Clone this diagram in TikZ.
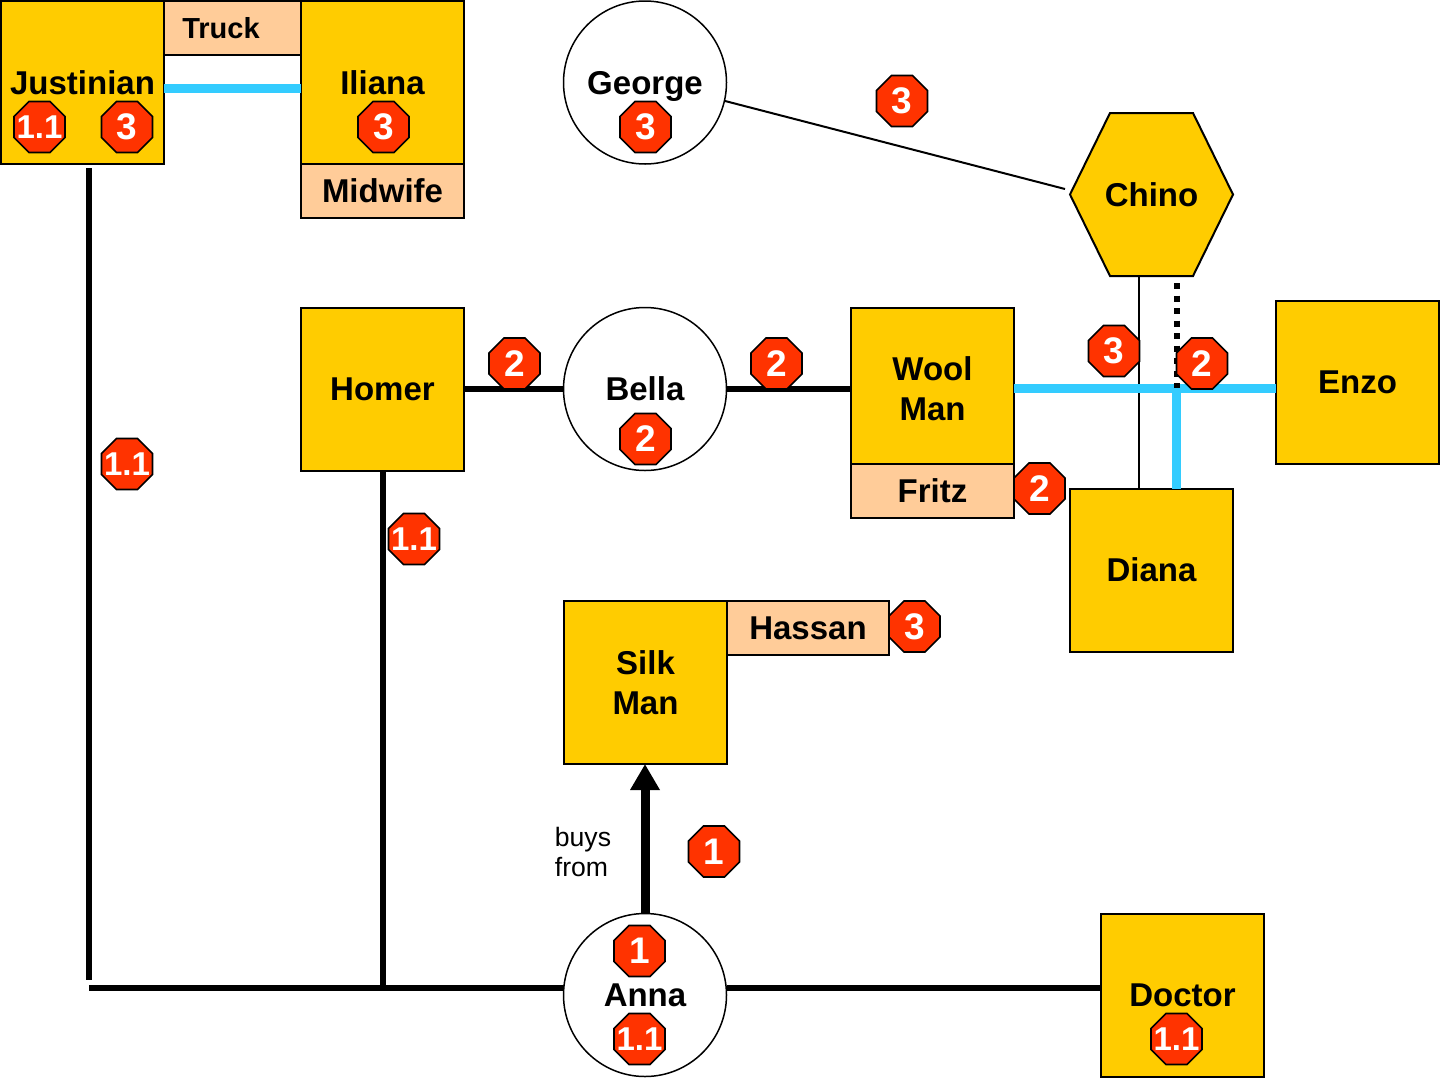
\documentclass[tikz,border=0pt]{standalone}
\usepackage{fontspec}
\setmainfont{Liberation Sans}
\usepackage{xcolor}
\usepackage{tikz}
\usetikzlibrary{shapes.geometric,arrows.meta}
\definecolor{roleyellow}{HTML}{FFCC00}
\definecolor{tagpeach}{HTML}{FFCC99}
\definecolor{stopred}{HTML}{FF3300}
\definecolor{tieblue}{HTML}{33CCFF}
\newcommand{\widelabel}{\makebox[0pt]{1.1}}
\tikzset{
    boxtext/.style={font=\fontsize{16.5}{20}\selectfont\bfseries, align=center, inner sep=0pt, outer sep=0pt},
    rolebox/.style={boxtext, draw, line width=1pt, fill=roleyellow, minimum size=81.5pt},
    tagbox/.style={boxtext, draw, line width=0.8pt, fill=tagpeach, minimum height=27pt},
    personbox/.style={boxtext, draw, line width=0.75pt, fill=white, circle, minimum size=81.5pt},
    stopsign/.style={regular polygon, regular polygon sides=8, draw, line width=0.8pt, fill=stopred, text=white, inner sep=0pt, minimum size=27.6pt, font=\fontsize{18.5}{20}\selectfont\bfseries},
    smallstop/.style={stopsign, font=\fontsize{16.5}{20}\selectfont\bfseries},
    thickline/.style={line width=3pt},
    thinline/.style={line width=1pt},
    tieline/.style={line width=4.5pt, tieblue},
}
\begin{document}
\begin{tikzpicture}[x=0.5pt, y=-0.5pt]
        \useasboundingbox (0,0) rectangle (1440,1077);
        % boxes
        \node[rolebox] (justinian) at (82.5,82.5) {Justinian};
        \node[rolebox] (iliana) at (382.5,82.5) {Iliana};
        \node[tagbox, minimum width=68.5pt, font=\fontsize{14.5}{18}\selectfont\bfseries] (truck) at (232.5,28) {Truck\hspace*{11.5pt}};
        \node[tagbox, minimum width=81.5pt] (midwife) at (382.5,191) {Midwife};
        \node[personbox, text depth=0pt] (george) at (645,82.5) {George};
        \filldraw[line width=1pt, fill=roleyellow] (1070,194.5) -- (1110,113) -- (1193,113) -- (1233,194.5) -- (1193,276) -- (1110,276) -- cycle;
        \node[boxtext, minimum size=81.5pt] (chino) at (1151.5,195) {Chino};
        \node[rolebox] (homer) at (382.5,389) {Homer};
        \node[personbox] (bella) at (645,389) {Bella};
        \node[rolebox] (wool) at (932.5,389) {Wool\\Man};
        \node[tagbox, minimum width=81.5pt] (fritz) at (932.5,491) {Fritz};
        \node[rolebox] (enzo) at (1357.5,382.5) {Enzo};
        \node[rolebox] (diana) at (1151.5,570) {Diana};
        \node[rolebox] (silk) at (645.5,682.5) {Silk\\Man};
        \node[tagbox, minimum width=81pt] (hassan) at (808,628) {Hassan};
        \node[personbox] (anna) at (645,995) {Anna};
        \node[rolebox] (doctor) at (1182.5,995) {Doctor};
        \node[font=\fontsize{13.3}{15}\selectfont, align=left, inner sep=0pt, anchor=west] (buys) at (554.5,852) {buys\\from};

        % free ends
        \coordinate (trunk) at (89,988);
        \coordinate (droptop) at (89,168);
        \coordinate (dropend) at (89,980);
        \coordinate (marriage) at (232,88);
        \coordinate (chinoend) at (1065,189);
        \coordinate (thinrun) at (1139,400);
        \coordinate (cross) at (1176.5,388);
        \coordinate (dotend) at (1176.5,283);

        % lines
        \draw[thickline] (droptop) -- (dropend);
        \draw[thickline] (trunk) -- (trunk -| anna.west);
        \draw[thickline] (anna.east |- trunk) -- (doctor.west |- trunk);
        \draw[thickline] (homer.south) -- (homer.south |- trunk);
        \draw[thickline] (homer.east) -- (bella.west);
        \draw[thickline] (bella.east) -- (wool.west |- bella);
        \draw[line width=4.5pt, -{Triangle[length=13pt, width=14pt]}] (anna.north) -- (silk.south -| anna.north);
        \draw[thinline] (george.-13) -- (chinoend);
        \draw[thinline] (thinrun |- chino.south) -- (thinrun |- diana.north);
        \draw[tieline] (justinian.east |- marriage) -- (iliana.west |- marriage);
        \draw[tieline] (wool.east |- cross) -- (enzo.west |- cross);
        \draw[tieline] (cross) -- (cross |- diana.north);
        \draw[line width=3pt, dash pattern=on 3pt off 3.25pt] (dotend) -- (cross);

        % stop signs
        \node[smallstop] (s1) at (39.5,127) {\widelabel};
        \node[stopsign] (s2) at (127,127) {3};
        \node[stopsign] (s3) at (383.5,127) {3};
        \node[stopsign] (s4) at (645.5,127) {3};
        \node[stopsign] (s5) at (902,101) {3};
        \node[stopsign] (s6) at (514.5,363.5) {2};
        \node[stopsign] (s7) at (645.5,439) {2};
        \node[stopsign] (s8) at (776.5,363.5) {2};
        \node[stopsign] (s9) at (1114,351) {3};
        \node[stopsign] (s10) at (1202,363.5) {2};
        \node[stopsign] (s11) at (1039.5,488.5) {2};
        \node[smallstop] (s12) at (127,464) {\widelabel};
        \node[smallstop] (s13) at (414,539) {\widelabel};
        \node[stopsign] (s14) at (914.5,626.5) {3};
        \node[stopsign] (s15) at (714,851.5) {1};
        \node[stopsign] (s16) at (639.5,951) {1};
        \node[smallstop] (s17) at (639.5,1039) {\widelabel};
        \node[smallstop] (s18) at (1176.5,1039) {\widelabel};
\end{tikzpicture}
\end{document}
